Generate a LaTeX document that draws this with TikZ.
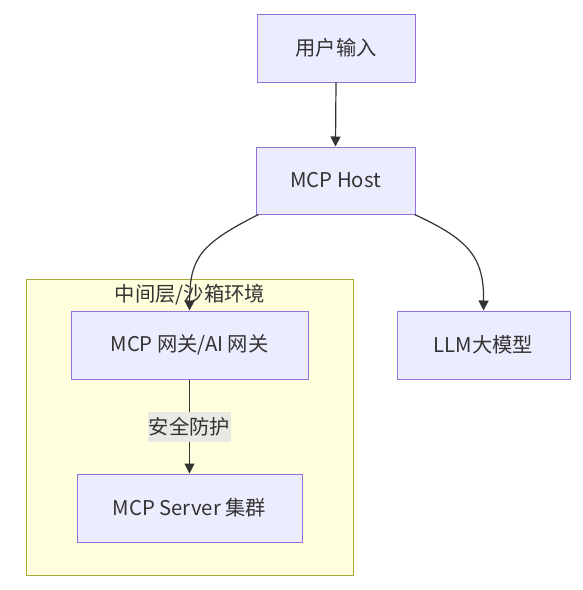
\documentclass[tikz,border=0pt]{standalone}
\usepackage{fontspec}
\setmainfont{Noto Sans CJK SC}
\usetikzlibrary{arrows.meta}
\definecolor{nodefill}{HTML}{ECECFF}
\definecolor{nodeline}{HTML}{9370DB}
\definecolor{clfill}{HTML}{FFFFDE}
\definecolor{clline}{HTML}{AAAA33}
\definecolor{edgecol}{HTML}{333333}
\definecolor{lblbg}{HTML}{E9E9E3}
\definecolor{txt}{HTML}{333333}
\tikzset{
  lbl/.style={text=txt, font=\fontsize{20.3}{22}\selectfont},
  box/.style={lbl, draw=nodeline, fill=nodefill, line width=1pt, inner sep=0pt},
  conn/.style={draw=edgecol, line width=1.2pt, -{Triangle[length=10pt,width=10pt]}},
}
\begin{document}
\begin{tikzpicture}[x=1pt,y=-1pt]
\useasboundingbox (0,0) rectangle (583,590);
\fill[white] (0,0) rectangle (583,590);
\node[draw=clline, fill=clfill, line width=1pt, minimum width=327pt, minimum height=296pt, inner sep=0pt] (cluster) at (189.5,427) {};
\node[lbl] (cltitle) at (190,295) {中间层/沙箱环境};
\node[box, minimum width=158pt, minimum height=68pt] (user) at (336,48) {用户输入};
\node[box, minimum width=159pt, minimum height=67pt] (host) at (335.5,180.5) {MCP Host};
\node[box, minimum width=237pt, minimum height=68pt] (gw) at (189.5,345) {MCP 网关/AI 网关};
\node[box, minimum width=225pt, minimum height=68pt] (srv) at (189.5,508) {MCP Server 集群};
\node[box, minimum width=173pt, minimum height=68pt] (llm) at (483.5,345) {LLM大模型};
\draw[conn] (user.south) -- (host.north);
\coordinate (hl) at ([xshift=3pt]host.south west);
\coordinate (hr) at ([xshift=-1pt]host.south east);
\draw[conn] (hl) .. controls (200,244) and (190,258) .. (gw.north);
\draw[conn] (hr) .. controls (470,240) and (484,258) .. (llm.north);
\draw[conn] (gw.south) -- (srv.north) node[midway, lbl, fill=lblbg, inner sep=1pt, minimum height=30pt, minimum width=81pt] (elbl) {安全防护};
\end{tikzpicture}
\end{document}
